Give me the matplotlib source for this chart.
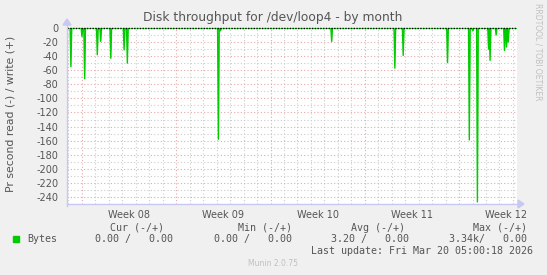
import matplotlib.pyplot as plt
import numpy as np

# days counted from Mon Feb 16 2026 00:00 (start of Week 08)
spike_days = [-0.82, 0.0, 0.2, 1.14, 1.39, 2.14, 3.13, 3.37, 10.13, 10.28,
              18.54, 23.23, 23.85, 27.14, 28.76, 29.01, 29.36, 29.88,
              30.19, 30.30, 30.75, 31.37, 31.52, 31.65]
spike_values = [-55, -12, -72, -38, -19, -43, -31, -50, -158, -4,
                -19, -57, -39, -49, -159, -4, -247, -1,
                -30, -46, -10, -32, -27, -20]

week_labels = ["Week 08", "Week 09", "Week 10", "Week 11", "Week 12"]
week_starts = [0, 7, 14, 21, 28]

legend_cols = ["Cur (-/+)", "Min (-/+)", "Avg (-/+)", "Max (-/+)"]
legend_vals = ["0.00 /   0.00", "0.00 /   0.00", "3.20 /   0.00", "3.34k/   0.00"]

W, H = 547, 275
BG = "#f0f0f0"
GREEN = "#00cc00"
TXT = "#555555"
MAJ = "#e8a8a8"
MIN = "#cccccc"
AXC = "#c8c8f4"

# build the series: zero baseline between the spikes
hw = 0.06
t, v = [-1.2], [0.0]
for d, val in zip(spike_days, spike_values):
    t += [d - hw, d, d + hw]
    v += [0.0, val, 0.0]
t.append(33.0)
v.append(0.0)
t = np.array(t)
v = np.array(v)

fig = plt.figure(figsize=(W / 100, H / 100), dpi=100, facecolor=BG)
x0, x1, y0, y1 = 67, 517, 28, 204
ax = fig.add_axes([x0 / W, 1 - y1 / H, (x1 - x0) / W, (y1 - y0) / H])
ax.set_facecolor("white")
ax.set_xlim(-1.11, 32.3)
ax.set_ylim(-250, 0)

# grid
for d in range(-1, 33):
    if d not in week_starts:
        ax.axvline(d, color=MIN, lw=0.8, ls=(0, (1, 2)), zorder=1)
for y in range(-250, 0, 10):
    if y % 20 != 0:
        ax.axhline(y, color=MIN, lw=0.8, ls=(0, (1, 2)), zorder=1)
for d in week_starts:
    ax.axvline(d, color=MAJ, lw=0.8, ls=(0, (1, 2)), zorder=1)
for y in range(-240, 0, 20):
    ax.axhline(y, color=MAJ, lw=0.8, ls=(0, (1, 2)), zorder=1)

ax.fill_between(t, v, 0, color=GREEN, alpha=0.45, lw=0, zorder=2)
ax.plot(t, v, color=GREEN, lw=1.0, zorder=3)
ax.axhline(0, color="black", lw=1.0, ls=(0, (1, 1)), zorder=4, clip_on=False)

for s in ax.spines.values():
    s.set_visible(False)

ax.set_yticks(range(-240, 1, 20))
ax.set_yticklabels([str(y) for y in range(-240, 1, 20)])
ax.set_xticks([w + 3.5 for w in week_starts])
ax.set_xticklabels(week_labels)
ax.tick_params(axis="both", length=0, colors=TXT, labelsize=7)
ax.tick_params(axis="y", pad=6)
ax.tick_params(axis="x", pad=4)

# axes with arrows
fig.add_artist(plt.Line2D([x0 / W, 521 / W], [1 - y1 / H, 1 - y1 / H], color=AXC, lw=1))
fig.add_artist(plt.Line2D([x0 / W, x0 / W], [1 - 206 / H, 1 - 24 / H], color=AXC, lw=1))
fig.patches.append(plt.Polygon([[518 / W, 1 - 200 / H], [518 / W, 1 - 208 / H], [524 / W, 1 - 204 / H]],
                               closed=True, color=AXC, transform=fig.transFigure, figure=fig))
fig.patches.append(plt.Polygon([[63 / W, 1 - 25 / H], [71 / W, 1 - 25 / H], [67 / W, 1 - 19 / H]],
                               closed=True, color=AXC, transform=fig.transFigure, figure=fig))

def px(x, y):
    return x / W, 1 - y / H

fig.text(*px(273, 18), "Disk throughput for /dev/loop4 - by month", ha="center", va="center",
         fontsize=8.8, color=TXT)
fig.text(*px(11, 114), "Pr second read (-) / write (+)", rotation=90, ha="center", va="center",
         fontsize=7.8, color=TXT)
fig.text(*px(538, 52), "RRDTOOL / TOBI OETIKER", rotation=270, ha="center", va="center",
         fontsize=5.5, color="#c0c0c0")

mono = "DejaVu Sans Mono"
col_right = [164, 292, 405, 527]
val_right = [173, 292, 409, 527]
for name, xr in zip(legend_cols, col_right):
    fig.text(*px(xr, 228), name, ha="right", va="center", fontsize=7.2, family=mono, color=TXT)
for val, xr in zip(legend_vals, val_right):
    fig.text(*px(xr, 239), val, ha="right", va="center", fontsize=7.2, family=mono, color=TXT)
fig.patches.append(plt.Rectangle(px(13, 242), 6 / W, 6 / H, color=GREEN,
                                 transform=fig.transFigure, figure=fig))
fig.text(*px(27, 239), "Bytes", ha="left", va="center", fontsize=7.2, family=mono, color=TXT)
fig.text(*px(533, 251), "Last update: Fri Mar 20 05:00:18 2026", ha="right", va="center",
         fontsize=7.2, family=mono, color=TXT)
fig.text(*px(273, 264), "Munin 2.0.75", ha="center", va="center", fontsize=5.5, color="#c0c0c0")

fig.savefig("out.png", dpi=100, facecolor=BG)
